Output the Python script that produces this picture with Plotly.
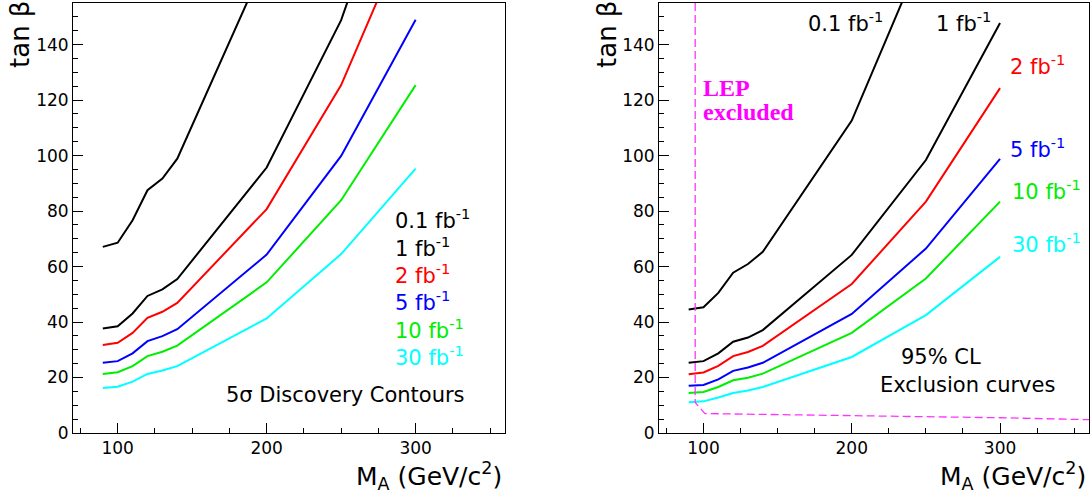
import plotly.graph_objects as go
from plotly.subplots import make_subplots

# ---------------- data ----------------
mass = [90, 100, 110, 120, 130, 140, 200, 250, 300]

# 5 sigma discovery contours (left)
disc_01 = [67.1, 68.6, 76.7, 87.5, 91.7, 98.9, 171.0, None, None]
disc_1 = [37.7, 38.5, 43.1, 49.4, 51.8, 55.5, 95.7, 148.8, 226.0]
disc_2 = [31.7, 32.5, 36.1, 41.5, 43.7, 46.9, 80.7, 125.4, 188.0]
disc_5 = [25.3, 25.9, 28.7, 33.1, 34.9, 37.4, 64.3, 99.9, 149.0]
disc_10 = [21.3, 21.9, 24.1, 27.7, 29.3, 31.5, 54.3, 83.9, 125.4]
disc_30 = [16.2, 16.7, 18.5, 21.3, 22.5, 24.1, 41.3, 64.5, 95.3]

# 95% CL exclusion curves (right)
excl_01 = [44.5, 45.3, 50.5, 57.8, 60.9, 65.3, 112.6, 175.6, None]
excl_1 = [25.3, 25.9, 28.7, 32.9, 34.4, 37.1, 64.2, 98.4, 147.8]
excl_2 = [21.2, 21.8, 24.2, 27.7, 29.2, 31.4, 53.7, 83.4, 124.3]
excl_5 = [17.0, 17.3, 19.3, 22.4, 23.6, 25.3, 42.9, 66.5, 98.8]
excl_10 = [14.4, 14.8, 16.6, 19.0, 19.9, 21.4, 36.1, 55.7, 83.4]
excl_30 = [11.1, 11.4, 12.8, 14.4, 15.3, 16.6, 27.4, 42.5, 63.5]

# LEP excluded boundary
lep_x = [94.4, 94.4, 101, 200, 300, 360]
lep_y = [155, 11, 7.0, 6.3, 5.5, 4.8]

lumi_labels = ["0.1 fb<sup>-1</sup>", "1 fb<sup>-1</sup>", "2 fb<sup>-1</sup>",
               "5 fb<sup>-1</sup>", "10 fb<sup>-1</sup>", "30 fb<sup>-1</sup>"]
colors = ["#000000", "#000000", "#ff0000", "#0000ff", "#00ee00", "#00ffff"]

disc = [disc_01, disc_1, disc_2, disc_5, disc_10, disc_30]
excl = [excl_01, excl_1, excl_2, excl_5, excl_10, excl_30]

FONT = "DejaVu Sans"

fig = make_subplots(rows=1, cols=2)

for ys, c in zip(disc, colors):
    fig.add_trace(go.Scatter(x=mass, y=ys, mode="lines", line=dict(color=c, width=2),
                             showlegend=False, hoverinfo="skip"), row=1, col=1)
for ys, c in zip(excl, colors):
    fig.add_trace(go.Scatter(x=mass, y=ys, mode="lines", line=dict(color=c, width=2),
                             showlegend=False, hoverinfo="skip"), row=1, col=2)
fig.add_trace(go.Scatter(x=lep_x, y=lep_y, mode="lines",
                         line=dict(color="#ff33ff", width=1.3, dash="8px,4px"),
                         showlegend=False, hoverinfo="skip"), row=1, col=2)

axis_common = dict(showline=True, linecolor="black", linewidth=1, mirror=True,
                   showgrid=False, zeroline=False, ticks="inside", ticklen=10,
                   tickwidth=1.2, tickcolor="black", automargin=False,
                   tickfont=dict(family=FONT, size=17, color="black"))
xaxis_cfg = dict(axis_common, range=[70, 360], tick0=0, dtick=100,
                 minor=dict(ticks="inside", ticklen=5, dtick=25, tick0=0, tickcolor="black"))
yaxis_cfg = dict(axis_common, range=[0, 155], tick0=0, dtick=20,
                 minor=dict(ticks="inside", ticklen=5, dtick=5, tick0=0, tickcolor="black"))

W, H = 1091, 499
ybot, ytop = 1 - 433 / H, 1 - 3 / H
fig.update_layout(
    width=W, height=H, margin=dict(l=0, r=0, t=0, b=0),
    paper_bgcolor="white", plot_bgcolor="white",
    xaxis=dict(xaxis_cfg, domain=[73 / W, 505 / W]),
    yaxis=dict(yaxis_cfg, domain=[ybot, ytop]),
    xaxis2=dict(xaxis_cfg, domain=[659 / W, 1089 / W]),
    yaxis2=dict(yaxis_cfg, domain=[ybot, ytop]),
)

ann = []
tf = dict(family=FONT, size=21, color="black")

# left panel labels
left_y = [77, 67.2, 57.4, 47.6, 37.6, 27.8]
for lab, c, yy in zip(lumi_labels, colors, left_y):
    ann.append(dict(x=285, y=yy, xref="x", yref="y", text=lab, showarrow=False,
                    xanchor="left", yanchor="middle", font=dict(tf, color=c)))
ann.append(dict(x=253, y=13.7, xref="x", yref="y", text="5σ Discovery Contours",
                showarrow=False, xanchor="center", yanchor="middle", font=tf))

# right panel labels
right_pos = [(195.6, 148.3, "center"), (275.3, 148.3, "center"), (305.4, 132.7, "left"),
             (305.4, 102.8, "left"), (306.5, 87.6, "left"), (306.5, 68.5, "left")]
for lab, c, (xx, yy, xa) in zip(lumi_labels, colors, right_pos):
    ann.append(dict(x=xx, y=yy, xref="x2", yref="y2", text=lab, showarrow=False,
                    xanchor=xa, yanchor="middle", font=dict(tf, color=c)))
ann.append(dict(x=260.5, y=27.3, xref="x2", yref="y2", text="95% CL",
                showarrow=False, xanchor="center", yanchor="middle", font=tf))
ann.append(dict(x=278, y=17.2, xref="x2", yref="y2", text="Exclusion curves",
                showarrow=False, xanchor="center", yanchor="middle", font=tf))
lep_font = dict(family="Liberation Serif", size=24, color="#ff00ff")
ann.append(dict(x=98.6, y=124.4, xref="x2", yref="y2", text="<b>LEP</b>",
                showarrow=False, xanchor="left", yanchor="middle", font=lep_font))
ann.append(dict(x=98.6, y=115.8, xref="x2", yref="y2", text="<b>excluded</b>",
                showarrow=False, xanchor="left", yanchor="middle", font=lep_font))

# axis titles
title_font = dict(family=FONT, size=25, color="black")
for xp in (20, 607):
    ann.append(dict(x=xp / W, y=1 - 35 / H, xref="paper", yref="paper", text="tan β",
                    textangle=-90, showarrow=False, xanchor="center", yanchor="middle",
                    font=dict(title_font, size=26)))
for xp in (504, 1088):
    ann.append(dict(x=xp / W, y=1 - 476 / H, xref="paper", yref="paper",
                    text="M<sub>A</sub> (GeV/c<sup>2</sup>)", showarrow=False,
                    xanchor="right", yanchor="middle", font=title_font))

fig.update_layout(annotations=ann)
fig.write_html("out.html", config={"displayModeBar": False},
               post_script="document.body.style.margin='0';document.body.style.overflow='hidden';")
